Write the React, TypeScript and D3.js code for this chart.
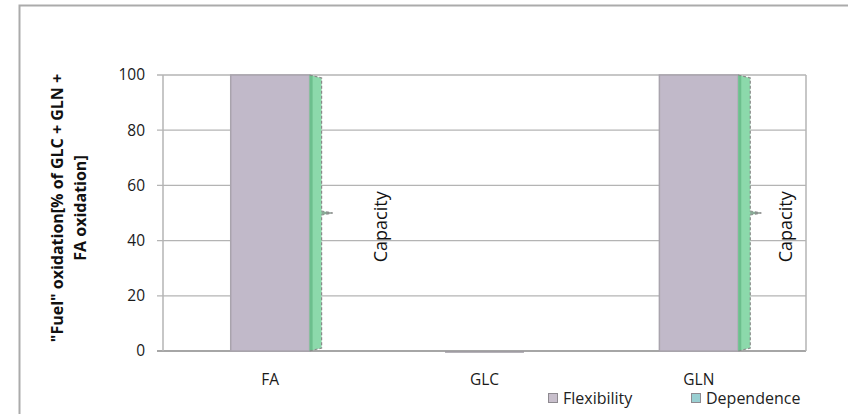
import React from "react";
import * as d3 from "d3";

// values
const categories = ["FA", "GLC", "GLN"];
const flexibility = [100, 0, 100];
const dependence = [100, 0, 100];
const yTicks = [0, 20, 40, 60, 80, 100];
const capacityLabels = ["Capacity", "", "Capacity"];

const W = 848;
const H = 414;
const font = "'Open Sans', sans-serif";

const App = () => {
  const x = d3.scaleBand().domain(categories).range([163, 806]).padding(0);
  const y = d3.scaleLinear().domain([0, 100]).range([351, 75]);
  const barW = x.bandwidth() * 0.368;
  const depW = 12;

  return (
    <svg width={W} height={H} style={{ position: "absolute", left: 0, top: 0, background: "#fff" }}>
      {/* outer frame */}
      <rect x={19.5} y={5.5} width={W} height={H} fill="none" stroke="#ababab" strokeWidth={2} />

      {/* grid */}
      {yTicks.map(t => (
        <g key={t}>
          <line x1={157} x2={806} y1={y(t)} y2={y(t)} stroke={t === 0 ? "#a6a6a6" : "#b4b4b4"} strokeWidth={t === 0 ? 2 : 1.3} />
          <text x={145} y={y(t)} dy="0.35em" textAnchor="end" fontSize={15.5} fontFamily={font} fill="#1a1a1a">{t}</text>
        </g>
      ))}
      <line x1={163} x2={163} y1={75} y2={351} stroke="#b4b4b4" strokeWidth={1.5} />
      <line x1={806} x2={806} y1={75} y2={351} stroke="#b4b4b4" strokeWidth={1.5} />

      {categories.map((c, i) => {
        const cx = x(c)! + x.bandwidth() / 2;
        const x0 = cx - barW / 2;
        const x1 = x0 + barW;
        const yTop = y(flexibility[i]);
        const yBot = y(0);
        const dTop = y(dependence[i]);
        const dMid = y(dependence[i] / 2);
        const hasDep = dependence[i] > 0;
        const x2 = x1 + depW;
        const brace = `M${x1},${dTop} L${x2},${dTop + 3} L${x2},${dMid - 2} L${x2 + 11},${dMid} L${x2},${dMid + 2} L${x2},${yBot - 3} L${x1},${yBot}`;
        return (
          <g key={c}>
            {flexibility[i] > 0 ? (
              <rect x={x0} y={yTop} width={barW} height={yBot - yTop} fill="#c1b9c9" stroke="#a9a4ad" strokeWidth={1.5} />
            ) : (
              <line x1={x0} x2={x1} y1={yBot + 1} y2={yBot + 1} stroke="#9c98a0" strokeWidth={1.5} />
            )}
            {hasDep && (
              <g>
                <path d={`${brace} Z`} fill="#8cd9ab" stroke="none" />
                <rect x={x1} y={dTop} width={3} height={yBot - dTop} fill="#6cbf8d" />
                <path d={brace} fill="none" stroke="#8a8a8a" strokeWidth={1.2} strokeDasharray="3,2" />
                <line x1={x2} x2={x2 + 11} y1={dMid} y2={dMid} stroke="#8a8a8a" strokeWidth={1.2} />
              </g>
            )}
            {capacityLabels[i] && (
              <text transform={`translate(${x2 + (i === 0 ? 59 : 35)},${y(45)}) rotate(-90)`} textAnchor="middle" dy="0.35em" fontSize={18} fontFamily={font} fill="#111">
                {capacityLabels[i]}
              </text>
            )}
            <text x={cx} y={380} textAnchor="middle" dy="0.35em" fontSize={15.5} fontFamily={font} fill="#1a1a1a">{c}</text>
          </g>
        );
      })}

      {/* y axis title */}
      <text transform={`translate(57,208) rotate(-90)`} textAnchor="middle" dy="0.35em" fontSize={16} fontWeight="bold" fontFamily={font} fill="#111">
        "Fuel" oxidation[% of GLC + GLN +
      </text>
      <text transform={`translate(80,208) rotate(-90)`} textAnchor="middle" dy="0.35em" fontSize={16} fontWeight="bold" fontFamily={font} fill="#111">
        FA oxidation]
      </text>

      {/* legend */}
      <rect x={548.5} y={393.5} width={9} height={9} fill="#c8bfcc" stroke="#8e8a90" strokeWidth={1} />
      <text x={563} y={398} dy="0.35em" fontSize={16} fontFamily={font} fill="#222">Flexibility</text>
      <rect x={691.5} y={393.5} width={9} height={9} fill="#99cfd2" stroke="#8e8a90" strokeWidth={1} />
      <text x={706} y={398} dy="0.35em" fontSize={16} fontFamily={font} fill="#222">Dependence</text>
    </svg>
  );
};

export default App;
